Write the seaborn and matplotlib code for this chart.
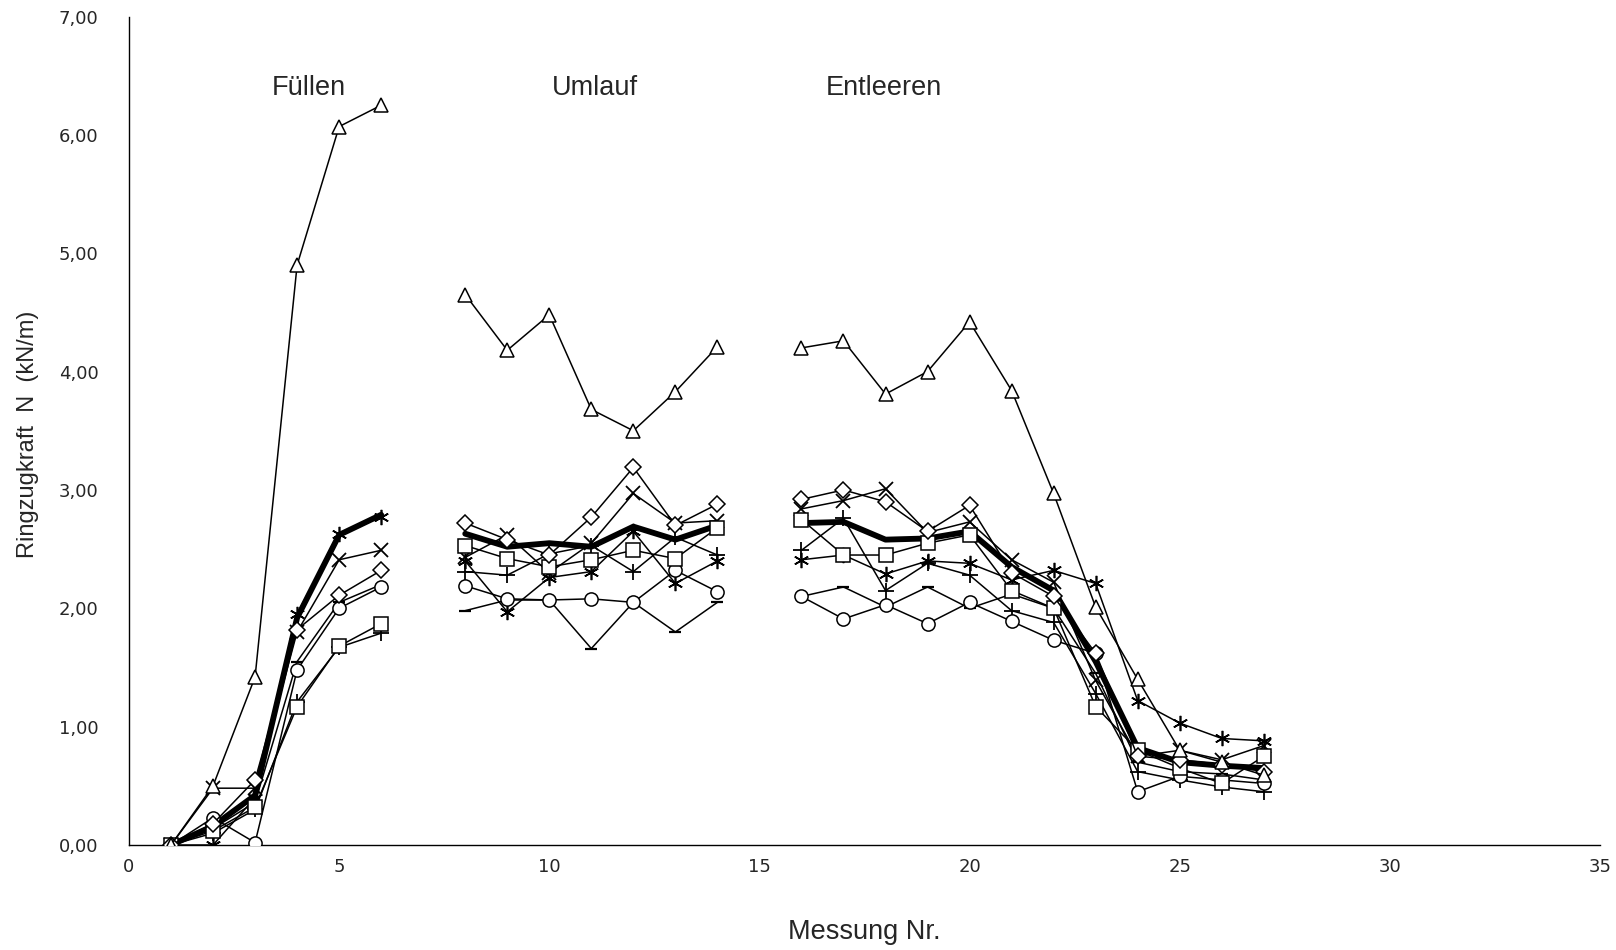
import numpy as np
import pandas as pd
import matplotlib
matplotlib.use("Agg")
import matplotlib.pyplot as plt
import seaborn as sns

# ---------------- data ----------------
x_fuellen = [1, 2, 3, 4, 5, 6]
x_umlauf = [8, 9, 10, 11, 12, 13, 14]
x_entleeren = [16, 17, 18, 19, 20, 21, 22, 23, 24, 25, 26, 27]

phase_labels = ["Füllen", "Umlauf", "Entleeren"]
phase_label_x = [4.29, 11.08, 17.97]

triangle_f = [0.00, 0.50, 1.42, 4.90, 6.07, 6.25]
triangle_u = [4.65, 4.18, 4.48, 3.68, 3.50, 3.83, 4.21]
triangle_e = [4.20, 4.26, 3.81, 4.00, 4.42, 3.84, 2.97, 2.01, 1.40, 0.80, 0.70, 0.59]

mean_f = [0.00, 0.16, 0.42, 1.92, 2.62, 2.79]
mean_u = [2.63, 2.52, 2.55, 2.52, 2.69, 2.58, 2.70]
mean_e = [2.72, 2.73, 2.58, 2.59, 2.65, 2.35, 2.15, 1.55, 0.82, 0.70, 0.67, 0.65]

diamond_f = [0.00, 0.18, 0.55, 1.82, 2.11, 2.32]
diamond_u = [2.72, 2.58, 2.45, 2.77, 3.19, 2.70, 2.88]
diamond_e = [2.92, 3.00, 2.90, 2.65, 2.87, 2.30, 2.10, 1.62, 0.75, 0.72, 0.68, 0.62]

circle_f = [0.00, 0.23, 0.02, 1.48, 2.00, 2.18]
circle_u = [2.19, 2.08, 2.07, 2.08, 2.05, 2.32, 2.14]
circle_e = [2.10, 1.91, 2.03, 1.87, 2.05, 1.89, 1.73, 1.62, 0.45, 0.58, 0.55, 0.52]

square_f = [0.00, 0.12, 0.32, 1.17, 1.68, 1.87]
square_u = [2.53, 2.42, 2.35, 2.41, 2.49, 2.42, 2.68]
square_e = [2.75, 2.45, 2.45, 2.55, 2.62, 2.15, 2.00, 1.17, 0.80, 0.65, 0.52, 0.75]

cross_f = [0.00, 0.48, 0.48, 1.80, 2.41, 2.49]
cross_u = [2.43, 2.62, 2.30, 2.55, 2.97, 2.72, 2.74]
cross_e = [2.84, 2.91, 3.01, 2.64, 2.73, 2.41, 2.22, 1.39, 0.75, 0.80, 0.72, 0.84]

star_f = [0.00, 0.00, 0.40, 1.95, 2.63, 2.77]
star_u = [2.40, 1.97, 2.26, 2.31, 2.65, 2.21, 2.40]
star_e = [2.41, 2.45, 2.29, 2.40, 2.38, 2.24, 2.32, 2.21, 1.22, 1.03, 0.90, 0.88]

plus_f = [0.00, 0.10, 0.30, 1.21, 1.67, 1.79]
plus_u = [2.31, 2.28, 2.46, 2.53, 2.31, 2.60, 2.45]
plus_e = [2.49, 2.76, 2.15, 2.38, 2.28, 1.98, 1.88, 1.28, 0.62, 0.55, 0.49, 0.45]

dash_f = [0.00, 0.14, 0.36, 1.55, 2.05, 2.20]
dash_u = [1.98, 2.07, 2.07, 1.66, 2.05, 1.80, 2.05]
dash_e = [2.10, 2.18, 2.01, 2.18, 2.00, 2.12, 2.00, 1.45, 0.70, 0.62, 0.60, 0.55]

y_ticks = [0, 1, 2, 3, 4, 5, 6, 7]
y_tick_labels = ["0,00", "1,00", "2,00", "3,00", "4,00", "5,00", "6,00", "7,00"]
x_ticks = [0, 5, 10, 15, 20, 25, 30, 35]
x_tick_labels = ["0", "5", "10", "15", "20", "25", "30", "35"]

series = {
    "dash": (dash_f, dash_u, dash_e),
    "plus": (plus_f, plus_u, plus_e),
    "circle": (circle_f, circle_u, circle_e),
    "square": (square_f, square_u, square_e),
    "star": (star_f, star_u, star_e),
    "cross": (cross_f, cross_u, cross_e),
    "diamond": (diamond_f, diamond_u, diamond_e),
    "triangle": (triangle_f, triangle_u, triangle_e),
    "mean": (mean_f, mean_u, mean_e),
}

rows = []
for name, (f, u, e) in series.items():
    for sec, xs, ys in (("F", x_fuellen, f), ("U", x_umlauf, u), ("E", x_entleeren, e)):
        for xv, yv in zip(xs, ys):
            rows.append({"series": name, "section": sec, "x": xv, "y": yv})
df = pd.DataFrame(rows)

# ---------------- style ----------------
sns.set_style("white")
plt.rcParams["font.family"] = ["Liberation Sans", "DejaVu Sans"]

styles = {
    "dash": dict(marker="_", ms=8, mew=1.6, lw=1.1, z=3),
    "plus": dict(marker="+", ms=11, mew=1.3, lw=1.1, z=3),
    "circle": dict(marker="o", ms=9.5, mew=1.1, lw=1.1, z=4),
    "square": dict(marker="s", ms=9.5, mew=1.1, lw=1.1, z=4),
    "star": dict(marker=(6, 2, 0), ms=11, mew=1.2, lw=1.1, z=3),
    "cross": dict(marker="x", ms=10, mew=1.3, lw=1.1, z=3),
    "diamond": dict(marker="D", ms=8, mew=1.1, lw=1.1, z=4),
    "triangle": dict(marker="^", ms=10.5, mew=1.1, lw=1.1, z=4),
    "mean": dict(marker=None, ms=0, mew=0, lw=4.2, z=2),
}

fig = plt.figure(figsize=(16.16, 9.5), dpi=100)
ax = fig.add_axes([129 / 1616, 105 / 950, 1471 / 1616, 828.5 / 950])

for name in series:
    st = styles[name]
    sub = df[df["series"] == name]
    kw = dict(color="black", lw=st["lw"], zorder=st["z"])
    if st["marker"] is not None:
        kw.update(marker=st["marker"], markersize=st["ms"], markerfacecolor="white",
                  markeredgecolor="black", markeredgewidth=st["mew"])
    sns.lineplot(data=sub, x="x", y="y", units="section", estimator=None,
                 sort=True, legend=False, ax=ax, **kw)

for lab, lx in zip(phase_labels, phase_label_x):
    ax.text(lx, 6.40, lab, ha="center", va="center", fontsize=19.5,
            family=["Liberation Sans", "DejaVu Sans"])

ax.set_xlim(0, 35)
ax.set_ylim(0, 7)
ax.set_xticks(x_ticks)
ax.set_xticklabels(x_tick_labels)
ax.set_yticks(y_ticks)
ax.set_yticklabels(y_tick_labels)

for lbl in ax.get_xticklabels() + ax.get_yticklabels():
    lbl.set_family(["DejaVu Sans"])
    lbl.set_fontsize(13)

ax.tick_params(axis="x", direction="in", length=8, width=1.0, pad=9)
ax.tick_params(axis="y", direction="in", length=6, width=1.0, pad=22)

sns.despine(ax=ax, top=True, right=True)
for sp in ("left", "bottom"):
    ax.spines[sp].set_linewidth(1.0)
    ax.spines[sp].set_color("black")

ax.set_xlabel("Messung Nr.", fontsize=19.5, labelpad=31,
              family=["Liberation Sans", "DejaVu Sans"])
ax.set_ylabel("Ringzugkraft  N  (kN/m)", fontsize=17,
              family=["Liberation Sans Narrow", "Liberation Sans", "DejaVu Sans"])
ax.yaxis.set_label_coords(-0.061, 0.496)

fig.savefig("out.png", dpi=100, facecolor="white")
